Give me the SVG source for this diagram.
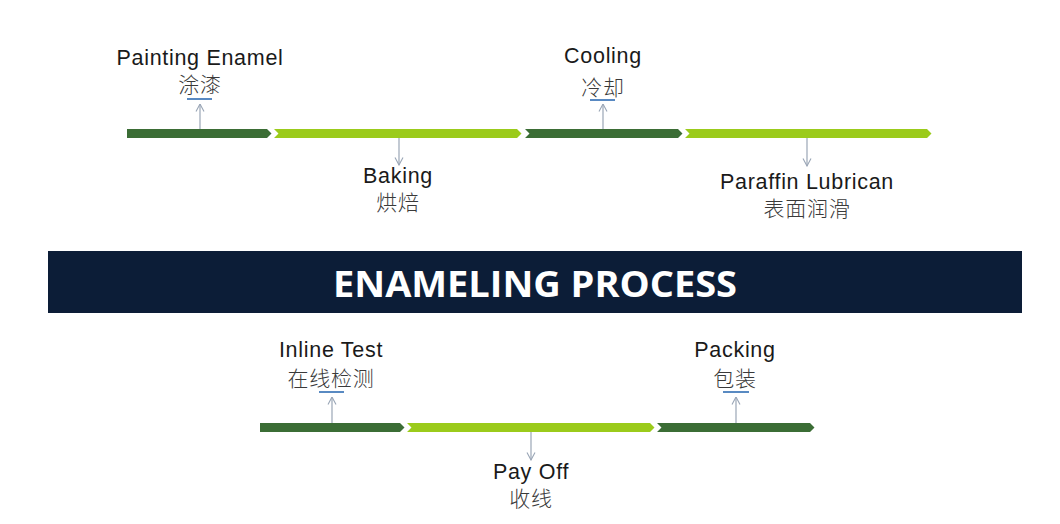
<svg xmlns="http://www.w3.org/2000/svg" width="1060" height="524" viewBox="0 0 1060 524">
<style>
.en{font-family:"Liberation Sans",Arial,sans-serif;font-size:21.5px;letter-spacing:0.7px;fill:#1a1a1a;text-anchor:middle}
.zh{font-family:"Noto Sans CJK SC","Noto Sans",sans-serif;font-size:21px;letter-spacing:0.8px;font-weight:300;fill:#3a3a3a;text-anchor:middle}
.dk{fill:#3b6d35}
.lt{fill:#9bcb1b}
.cn{stroke:#9aa6b6;stroke-width:1.2;fill:none;marker-end:url(#ah)}
.ul{stroke:#2f6cb3;stroke-width:1.6}
.title{font-family:"Open Sans","Noto Sans",sans-serif;font-weight:700;font-size:36px;fill:#ffffff;text-anchor:middle}
</style>
<defs>
<marker id="ah" viewBox="0 0 10 10" refX="9.5" refY="5" markerWidth="10" markerHeight="10" markerUnits="userSpaceOnUse" orient="auto">
<path d="M2,1 L9.5,5 L2,9" fill="none" stroke="#9aa6b6" stroke-width="1.1"/>
</marker>
</defs>
<rect width="1060" height="524" fill="#ffffff"/>

<g id="bar-top">
<path class="dk" d="M127,129 H267 L271.5,133.5 L267,138 H127 Z"/>
<path class="lt" d="M274,129 H517 L521.5,133.5 L517,138 H274 L278.5,133.5 Z"/>
<path class="dk" d="M525,129 H678 L682.5,133.5 L678,138 H525 L529.5,133.5 Z"/>
<path class="lt" d="M685,129 H927 L931.5,133.5 L927,138 H685 L689.5,133.5 Z"/>
</g>

<g id="bar-bottom">
<path class="dk" d="M260,423 H400 L404.5,427.5 L400,432 H260 Z"/>
<path class="lt" d="M407,423 H650 L654.5,427.5 L650,432 H407 L411.5,427.5 Z"/>
<path class="dk" d="M657,423 H810 L814.5,427.5 L810,432 H657 L661.5,427.5 Z"/>
</g>

<g id="banner">
<rect x="48" y="251" width="974" height="62" fill="#0c1d37"/>
<text class="title" x="535" y="297" textLength="404" lengthAdjust="spacingAndGlyphs">ENAMELING PROCESS</text>
</g>

<g id="connectors">
<line class="cn" x1="200" y1="129" x2="200" y2="104"/>
<line class="cn" x1="399" y1="138" x2="399" y2="165"/>
<line class="cn" x1="603" y1="129" x2="603" y2="104"/>
<line class="cn" x1="807" y1="138" x2="807" y2="166"/>
<line class="cn" x1="332" y1="423" x2="332" y2="397"/>
<line class="cn" x1="531" y1="432" x2="531" y2="460"/>
<line class="cn" x1="736" y1="423" x2="736" y2="397"/>
</g>

<g id="node-painting">
<text class="en" x="200" y="65">Painting Enamel</text>
<text class="zh" x="200" y="92">涂漆</text>
<line class="ul" x1="187" y1="99" x2="212" y2="99"/>
</g>

<g id="node-baking">
<text class="en" x="398" y="183">Baking</text>
<text class="zh" x="398" y="210">烘焙</text>
</g>

<g id="node-cooling">
<text class="en" x="603" y="63">Cooling</text>
<text class="zh" x="603" y="95">冷却</text>
<line class="ul" x1="590" y1="100" x2="615" y2="100"/>
</g>

<g id="node-paraffin">
<text class="en" x="807" y="189">Paraffin Lubrican</text>
<text class="zh" x="807" y="216">表面润滑</text>
</g>

<g id="node-inline">
<text class="en" x="331" y="357">Inline Test</text>
<text class="zh" x="331" y="386">在线检测</text>
<line class="ul" x1="319" y1="392" x2="344" y2="392"/>
</g>

<g id="node-payoff">
<text class="en" x="531" y="479">Pay Off</text>
<text class="zh" x="531" y="506">收线</text>
</g>

<g id="node-packing">
<text class="en" x="735" y="357">Packing</text>
<text class="zh" x="735" y="386">包装</text>
<line class="ul" x1="723" y1="392" x2="749" y2="392"/>
</g>
</svg>
